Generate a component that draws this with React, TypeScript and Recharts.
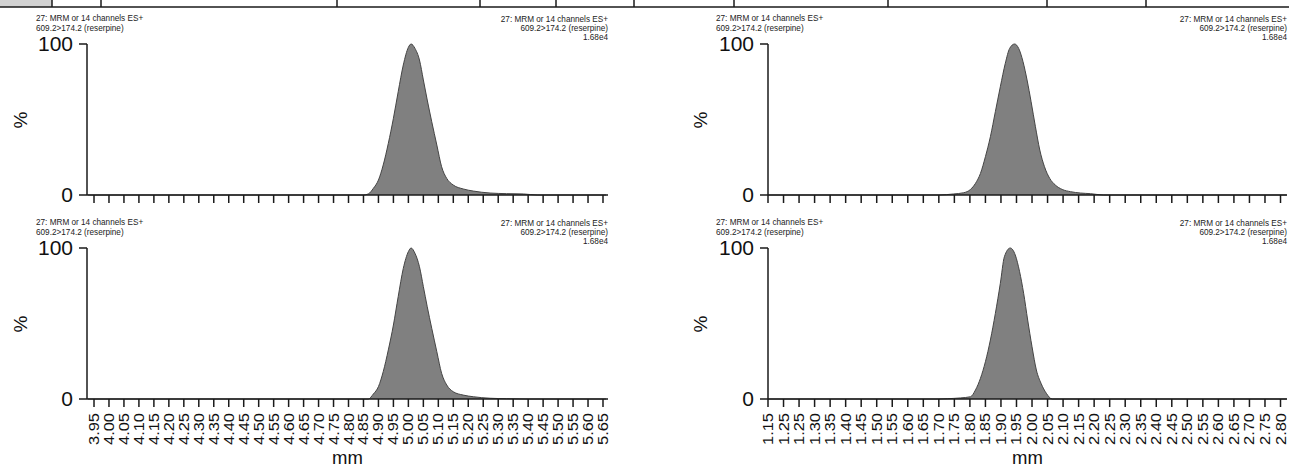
import React from "react";
import { AreaChart, Area, XAxis, YAxis } from "recharts";

const FONT = "'Liberation Sans', Arial, Helvetica, sans-serif";

// retention time (min) / relative intensity (%)
const tlTime = [3.93, 4.85, 4.866, 4.883, 4.9, 4.916, 4.933, 4.95, 4.966, 4.983, 5.0, 5.009, 5.022, 5.037, 5.05, 5.063, 5.078, 5.095, 5.111, 5.128, 5.15, 5.183, 5.217, 5.273, 5.328, 5.384, 5.43, 5.66];
const tlPct = [0, 0, 0.7, 4.4, 9.9, 19.9, 34.2, 50.8, 68.4, 86.1, 97.8, 100, 97.1, 89.4, 76.2, 62.9, 48.5, 33.1, 18.7, 11.0, 6.6, 4.0, 2.6, 1.3, 0.9, 0.7, 0, 0];

const blTime = [3.93, 4.85, 4.866, 4.883, 4.9, 4.916, 4.933, 4.95, 4.966, 4.983, 5.0, 5.009, 5.022, 5.037, 5.05, 5.063, 5.078, 5.095, 5.111, 5.128, 5.15, 5.183, 5.217, 5.273, 5.328, 5.4, 5.66];
const blPct = [0, 0, 0, 3.3, 8.2, 18.1, 32.5, 49.0, 67.8, 86.5, 97.6, 100, 96.5, 87.6, 74.4, 61.1, 46.8, 31.3, 17.0, 9.3, 4.8, 2.6, 1.5, 0.5, 0.2, 0, 0];

const trTime = [1.15, 1.7, 1.748, 1.78, 1.802, 1.818, 1.834, 1.85, 1.866, 1.882, 1.898, 1.914, 1.928, 1.944, 1.957, 1.971, 1.984, 1.997, 2.011, 2.025, 2.04, 2.057, 2.075, 2.097, 2.124, 2.156, 2.188, 2.23, 2.82];
const trPct = [0, 0, 0.7, 1.5, 3.7, 7.7, 14.3, 25.4, 38.6, 55.2, 71.7, 87.2, 97.1, 100, 97.1, 88.3, 76.2, 61.8, 45.2, 29.8, 18.8, 11.0, 6.6, 3.7, 2.2, 1.3, 0.9, 0, 0];

const brTime = [1.15, 1.7, 1.727, 1.769, 1.802, 1.818, 1.834, 1.85, 1.866, 1.882, 1.898, 1.911, 1.93, 1.946, 1.96, 1.973, 1.986, 2.0, 2.014, 2.029, 2.046, 2.065, 2.82];
const brPct = [0, 0, 0.2, 0.7, 1.5, 6.0, 13.7, 24.7, 39.1, 56.7, 76.6, 94.2, 100, 95.4, 84.3, 70.0, 52.3, 34.6, 19.2, 10.4, 3.8, 0, 0];

const leftTickLabels = ["3.95", "4.00", "4.05", "4.10", "4.15", "4.20", "4.25", "4.30", "4.35", "4.40", "4.45", "4.50", "4.55", "4.60", "4.65", "4.70", "4.75", "4.80", "4.85", "4.90", "4.95", "5.00", "5.05", "5.10", "5.15", "5.20", "5.25", "5.30", "5.35", "5.40", "5.45", "5.50", "5.55", "5.60", "5.65"];
const leftTicks = leftTickLabels.map(Number);

const rightTicks = [1.15, 1.2, 1.25, 1.3, 1.35, 1.4, 1.45, 1.5, 1.55, 1.6, 1.65, 1.7, 1.75, 1.8, 1.85, 1.9, 1.95, 2.0, 2.05, 2.1, 2.15, 2.2, 2.25, 2.3, 2.35, 2.4, 2.45, 2.5, 2.55, 2.6, 2.65, 2.7, 2.75, 2.8];
const rightTickLabels = ["1.15", "1.25", "1.25", "1.30", "1.35", "1.40", "1.45", "1.50", "1.55", "1.60", "1.65", "1.70", "1.75", "1.80", "1.85", "1.90", "1.95", "2.00", "2.05", "2.10", "2.15", "2.20", "2.25", "2.30", "2.35", "2.40", "2.45", "2.50", "2.55", "2.60", "2.65", "2.70", "2.75", "2.80"];

const yTicks = [0, 100];

const headerLeft = ["27: MRM or 14 channels ES+", "609.2>174.2 (reserpine)"];
const headerRight = ["27: MRM or 14 channels ES+", "609.2>174.2 (reserpine)", "1.68e4"];

// top strip separators
const stripLines = [52, 101, 337, 480, 556, 634, 734, 888, 1047, 1146];

const toRows = (t: number[], p: number[]) => t.map((v, i) => ({ t: v, pct: p[i] }));

const AX = { stroke: "#1a1a1a", strokeWidth: 1.5 };

const EmptyTick = () => <g />;

const rotTick = (labels: string[]) => (props: any) => {
  const { x, y, index } = props;
  return (
    <text
      transform={`translate(${x + 5},${y}) rotate(-90)`}
      textAnchor="end"
      fontSize={14}
      fontFamily={FONT}
      fill="#111"
      textLength={32}
      lengthAdjust="spacingAndGlyphs"
    >
      {labels[index]}
    </text>
  );
};

type PanelProps = {
  rows: { t: number; pct: number }[];
  domain: [number, number];
  ticks: number[];
  labels?: string[];
  left: number;
  top: number;
  width: number;
  right: number;
  yWidth: number;
};

function Panel({ rows, domain, ticks, labels, left, top, width, right, yWidth }: PanelProps) {
  const height = labels ? 265 : 210;
  return (
    <div style={{ position: "absolute", left, top }}>
      <AreaChart width={width} height={height} data={rows} margin={{ top: 44, right, bottom: 0, left: 0 }}>
        <XAxis
          dataKey="t"
          type="number"
          domain={domain}
          allowDataOverflow
          ticks={ticks}
          interval={0}
          height={height - 44 - 151}
          tickSize={8}
          tickMargin={6}
          axisLine={AX}
          tickLine={AX}
          tick={labels ? rotTick(labels) : EmptyTick}
        />
        <YAxis
          type="number"
          domain={[0, 100]}
          ticks={yTicks}
          width={yWidth}
          tickSize={8}
          tickMargin={6}
          axisLine={AX}
          tickLine={AX}
          tick={{ fontSize: 21, fill: "#111", fontFamily: FONT }}
        />
        <Area
          type="monotone"
          dataKey="pct"
          stroke="#444"
          strokeWidth={1}
          fill="#808080"
          fillOpacity={1}
          isAnimationActive={false}
        />
      </AreaChart>
    </div>
  );
}

function Header({ lx, rx, y }: { lx: number; rx: number; y: number }) {
  return (
    <g fontFamily={FONT} fontSize={8.2} fill="#222">
      {headerLeft.map((s, i) => (
        <text key={"l" + i} x={lx} y={y + i * 9.5}>{s}</text>
      ))}
      {headerRight.map((s, i) => (
        <text key={"r" + i} x={rx} y={y + 0.5 + i * 9} textAnchor="end">{s}</text>
      ))}
    </g>
  );
}

export default function App() {
  const leftDomain: [number, number] = [3.9266, 5.6667];
  const rightDomain: [number, number] = [1.15, 2.8209];
  return (
    <div style={{ position: "absolute", left: 0, top: 0, width: 1289, height: 469, background: "#fff", overflow: "hidden" }}>
      <Panel rows={toRows(tlTime, tlPct)} domain={leftDomain} ticks={leftTicks} left={0} top={0} width={620} right={12} yWidth={87} />
      <Panel rows={toRows(trTime, trPct)} domain={rightDomain} ticks={rightTicks} left={680} top={0} width={609} right={2} yWidth={88} />
      <Panel rows={toRows(blTime, blPct)} domain={leftDomain} ticks={leftTicks} labels={leftTickLabels} left={0} top={204} width={620} right={12} yWidth={87} />
      <Panel rows={toRows(brTime, brPct)} domain={rightDomain} ticks={rightTicks} labels={rightTickLabels} left={680} top={204} width={609} right={2} yWidth={88} />

      <svg width={1289} height={469} style={{ position: "absolute", left: 0, top: 0, pointerEvents: "none" }}>
        <rect x={0} y={0} width={52} height={7} fill="#d2d2d2" />
        <line x1={0} x2={1289} y1={7} y2={7} stroke="#1a1a1a" strokeWidth={1.5} />
        {stripLines.map((x) => (
          <line key={x} x1={x} x2={x} y1={0} y2={7} stroke="#1a1a1a" strokeWidth={1.5} />
        ))}

        <Header lx={36} rx={608} y={21} />
        <Header lx={716} rx={1287} y={21} />
        <Header lx={36} rx={608} y={225} />
        <Header lx={716} rx={1287} y={225} />

        {[[20, 120], [700, 120], [20, 324], [700, 324]].map(([x, y], i) => (
          <text key={i} transform={`translate(${x},${y}) rotate(-90)`} textAnchor="middle" dominantBaseline="central" fontSize={19} fontFamily={FONT} fill="#111">%</text>
        ))}
        <text x={347.5} y={464} textAnchor="middle" fontSize={18.5} fontFamily={FONT} fill="#111">mm</text>
        <text x={1027.5} y={464} textAnchor="middle" fontSize={18.5} fontFamily={FONT} fill="#111">mm</text>
      </svg>
    </div>
  );
}
